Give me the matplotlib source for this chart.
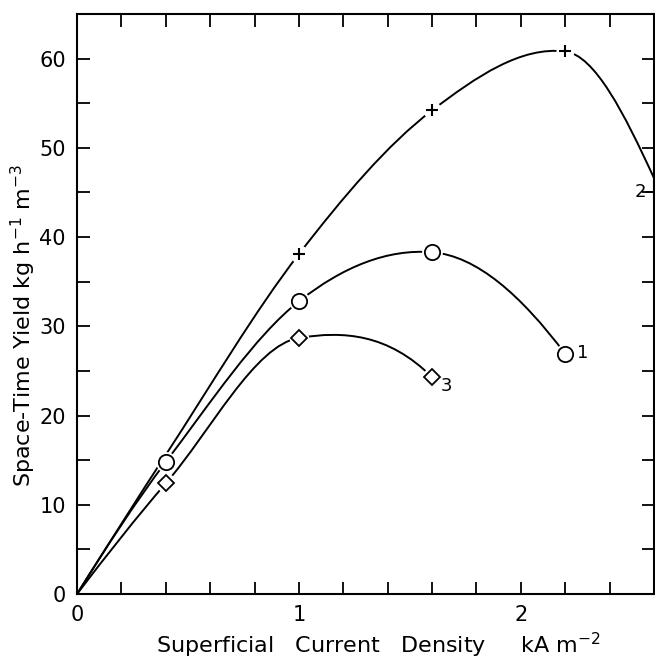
import numpy as np
import matplotlib
matplotlib.use("Agg")
import matplotlib.pyplot as plt
from matplotlib.path import Path
from matplotlib.patches import PathPatch

# current density, kA m^-2
x1 = [0, 0.4, 1.0, 1.6, 2.2]
y1 = [0, 14.8, 32.8, 38.3, 26.9]

x2 = [0, 0.4, 1.0, 1.6, 2.2, 2.6]
y2 = [0, 15.6, 38.1, 54.2, 60.8, 46.6]

x3 = [0, 0.4, 1.0, 1.6]
y3 = [0, 12.4, 28.7, 24.3]


def end_slope(h0, h1, d0, d1):
    m = ((2 * h0 + h1) * d0 - h0 * d1) / (h0 + h1)
    if np.sign(m) != np.sign(d0):
        m = 0.0
    return m


def smooth_path(xs, ys):
    # Catmull-Rom style cubic through the points, drawn as bezier segments
    x = np.asarray(xs, float)
    y = np.asarray(ys, float)
    h = np.diff(x)
    d = np.diff(y) / h
    n = len(x)
    m = np.zeros(n)
    m[1:-1] = (y[2:] - y[:-2]) / (x[2:] - x[:-2])
    # flatten the tangent at the maxima so the curve does not overshoot
    turn = d[:-1] * d[1:] < 0
    m[1:-1][turn] *= 0.4
    m[0] = end_slope(h[0], h[1], d[0], d[1])
    m[-1] = end_slope(h[-1], h[-2], d[-1], d[-2])
    verts = [(x[0], y[0])]
    codes = [Path.MOVETO]
    for i in range(n - 1):
        t = h[i] / 3
        verts += [(x[i] + t, y[i] + m[i] * t),
                  (x[i + 1] - t, y[i + 1] - m[i + 1] * t),
                  (x[i + 1], y[i + 1])]
        codes += [Path.CURVE4] * 3
    return Path(verts, codes)


plt.rcParams["font.family"] = ["DejaVu Sans"]
fig = plt.figure(figsize=(6.55, 6.6), dpi=100)
ax = fig.add_axes([0.1176, 0.1, 0.8809, 0.8788])

for xs, ys in [(x1, y1), (x2, y2), (x3, y3)]:
    ax.add_patch(PathPatch(smooth_path(xs, ys), fill=False, lw=1.4,
                           ec="black", zorder=2))

# white halos leave small gaps in the lines around the markers
ax.plot(x1[1:], y1[1:], ls="none", marker="o", ms=15, mfc="white",
        mec="none", zorder=3)
ax.plot(x1[1:], y1[1:], ls="none", marker="o", ms=11, mfc="white",
        mec="black", mew=1.3, zorder=4)
ax.plot(x2[2:5], y2[2:5], ls="none", marker="o", ms=13, mfc="white",
        mec="none", zorder=3)
ax.plot(x2[2:5], y2[2:5], ls="none", marker="+", ms=8, mec="black",
        mew=1.5, zorder=4)
ax.plot(x3[1:], y3[1:], ls="none", marker="o", ms=14, mfc="white",
        mec="none", zorder=3)
ax.plot(x3[1:], y3[1:], ls="none", marker="D", ms=8.5, mfc="white",
        mec="black", mew=1.3, zorder=4)

ax.text(2.255, 27.0, "1", fontsize=13, va="center", ha="left")
ax.text(1.64, 23.3, "3", fontsize=13, va="center", ha="left")
ax.text(2.565, 45.1, "2", fontsize=13, va="center", ha="right")
ax.plot([2.565, 2.6], [45.1, 45.1], color="black", lw=1.3, clip_on=False)

ax.set_xlim(0, 2.6)
ax.set_ylim(0, 65)
ax.set_xticks([0, 1, 2])
ax.set_xticks(np.arange(0, 2.61, 0.2), minor=True)
ax.set_yticks(range(0, 61, 10))
ax.set_yticks(range(0, 66, 5), minor=True)
ax.tick_params(which="both", direction="in", top=True, right=True,
               length=9, width=1.3, labelsize=15, pad=8)
for s in ax.spines.values():
    s.set_linewidth(1.5)

ax.set_xlabel("Superficial   Current   Density     kA m$^{-2}$", fontsize=16)
ax.set_ylabel("Space-Time Yield kg h$^{-1}$ m$^{-3}$", fontsize=16)
ax.xaxis.set_label_coords(0.522, -0.064)
ax.yaxis.set_label_coords(-0.068, 0.464)

fig.savefig("out.png", dpi=100)
